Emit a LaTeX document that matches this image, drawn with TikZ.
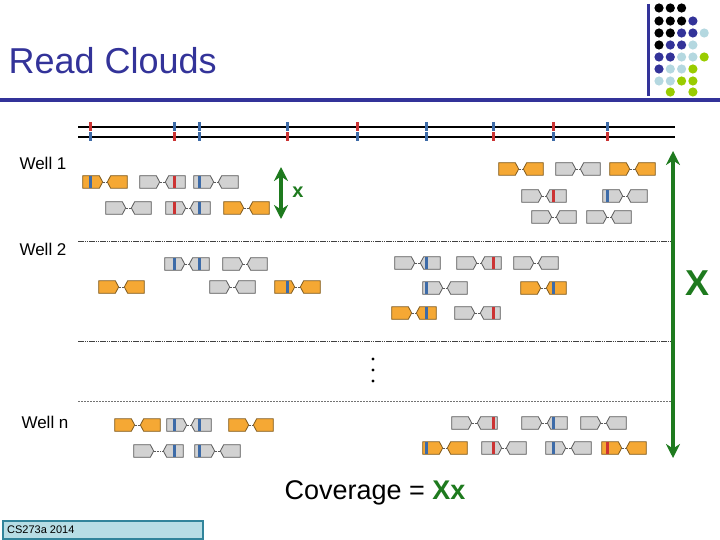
\documentclass[tikz,border=0pt]{standalone}
\usepackage{fontspec}
\setmainfont{Liberation Sans}
\usetikzlibrary{arrows.meta,shapes.symbols}
\definecolor{slide}{HTML}{333399}
\definecolor{dotk}{HTML}{000000}
\definecolor{dotb}{HTML}{333399}
\definecolor{dotl}{HTML}{B4D8E0}
\definecolor{dotg}{HTML}{99CC00}
\definecolor{dotw}{HTML}{FFFFFF}
\definecolor{rdor}{HTML}{F5A834}
\definecolor{rdorb}{HTML}{7F5A1E}
\definecolor{rdgy}{HTML}{D2D2D2}
\definecolor{rdgyb}{HTML}{5A5A5A}
\definecolor{snpb}{HTML}{3D6BA8}
\definecolor{snpr}{HTML}{CC3333}
\definecolor{covgreen}{HTML}{1E7A1E}
\definecolor{foot}{HTML}{B7DDE5}
\definecolor{footb}{HTML}{31849B}
\begin{document}
\begin{tikzpicture}[x=1pt,y=-1pt,>=Stealth,
 rd/.style={shape=signal,signal pointer angle=124,minimum width=20pt,minimum height=12.5pt,inner sep=0pt,outer sep=0pt,line width=0.8pt},
 fw/.style={rd,signal to=east},rv/.style={rd,signal to=west},
 orng/.style={fill=rdor,draw=rdorb},gry/.style={fill=rdgy,draw=rdgyb},
 snp/.style={line width=3pt},
 pair/.style={densely dotted,line width=0.6pt,draw=rdgyb},
 sepline/.style={line width=1pt,draw=black!75,dash pattern=on 1.5pt off 0.7pt},
 covarrow/.style={draw=covgreen,line width=3.5pt,{Stealth[length=14pt,width=14pt]}-{Stealth[length=14pt,width=14pt]}},
 lab/.style={font=\fontsize{17}{20}\selectfont,anchor=west}]
\useasboundingbox (0,0) rectangle (720,540);
\node[anchor=base west,text=slide,font=\fontsize{36}{40}\selectfont] (title) at (5,74) {Read Clouds};
\draw[slide,line width=3.5pt] (0,100)--(720,100);
\draw[slide,line width=3pt] (648,4)--(648,96);
\foreach \y/\row in {8/{k,k,k},21/{k,k,k,b},33/{k,k,b,b,l},45/{k,b,b,l},57/{b,b,l,l,g},69/{b,l,l,g},81/{l,l,g,g},92/{w,g,w,g}}
 \foreach \c [count=\i from 0] in \row {\fill[dot\c] (659+11.3*\i,\y) circle (4.6pt);}
\foreach \y in {127,137} \draw[line width=1.3pt] (78,\y)--(675,\y);
\foreach \x/\ct/\cb in {90/r/b,174/b/r,199/b/b,287/b/r,357/r/b,426/b/b,493/b/r,553/r/b,607/b/r}
 {\draw[snp,snp\ct] (\x,122.5)--(\x,131.5);\draw[snp,snp\cb] (\x,132.5)--(\x,141.5);}
\foreach \y in {241,341} \draw[sepline] (78,\y)--(672,\y);
\draw[draw=black!55,line width=0.7pt,dash pattern=on 2pt off 1pt] (78,401)--(672,401);
\node[lab] (w1) at (16,163) {Well 1};
\node[lab] (w2) at (16,249) {Well 2};
\node[lab] (wn) at (18,422) {Well n};
\foreach \xa/\xb/\y/\s [count=\n] in {81/109/182/orng,138/167/182/gry,192/220/182/gry,104/133/208/gry,164/192/208/gry,222/251/208/orng,
 497/525/169/orng,554/582/169/gry,608/637/169/orng,520/548/196/gry,601/629/196/gry,530/558/217/gry,585/613/217/gry,
 163/191/264/gry,221/249/264/gry,97/126/287/orng,208/237/287/gry,273/302/287/orng,393/422/263/gry,455/483/263/gry,512/540/263/gry,
 421/449/288/gry,519/548/288/orng,390/418/313/orng,453/482/313/gry,
 113/142/425/orng,165/193/425/gry,227/255/425/orng,132/165/451/gry,193/222/451/gry,450/479/423/gry,520/549/423/gry,579/608/423/gry,
 421/449/448/orng,480/508/448/gry,544/573/448/gry,600/628/448/orng}
 {\node[fw,\s] (f\n) at (\xa+10,\y) {};\node[rv,\s] (v\n) at (\xb+10,\y) {};\draw[pair] (f\n.east)--(v\n.west);}
\foreach \x/\y/\c in {90/182/b,174/182/r,199/182/b,174/208/r,199/208/b,553/196/r,607/196/b,
 174/264/b,199/264/b,287/287/b,426/263/b,493/263/r,426/288/b,553/288/b,426/313/b,493/313/r,
 174/425/b,199/425/b,174/451/b,199/451/b,493/423/r,553/423/b,426/448/b,493/448/r,553/448/b,607/448/r}
 \draw[snp,snp\c] (\x,\y-5.8)--(\x,\y+5.8);
\foreach \y in {359,370,381} \fill (373,\y) circle (1.6pt);
\coordinate (xtop) at (281,167);\coordinate (xbot) at (281,219);
\draw[covarrow] (xtop)--(xbot);
\node[text=covgreen,font=\fontsize{20}{22}\selectfont\bfseries] (xs) at (298,192) {x};
\coordinate (Xtop) at (673,151);\coordinate (Xbot) at (673,458);
\draw[covarrow] (Xtop)--(Xbot);
\node[text=covgreen,font=\fontsize{36}{40}\selectfont\bfseries] (Xb) at (697,283) {X};
\node[anchor=base west,font=\fontsize{27}{30}\selectfont] (cov) at (281,499) {Coverage = {\color{covgreen}\bfseries Xx}};
\node[draw=footb,fill=foot,line width=1.5pt,minimum width=200pt,minimum height=18pt,anchor=west,inner sep=0pt] (foot) at (2,530) {};
\node[anchor=west,font=\fontsize{11}{13}\selectfont,inner sep=0pt] (foottext) at (7,530) {CS273a 2014};
\end{tikzpicture}
\end{document}
